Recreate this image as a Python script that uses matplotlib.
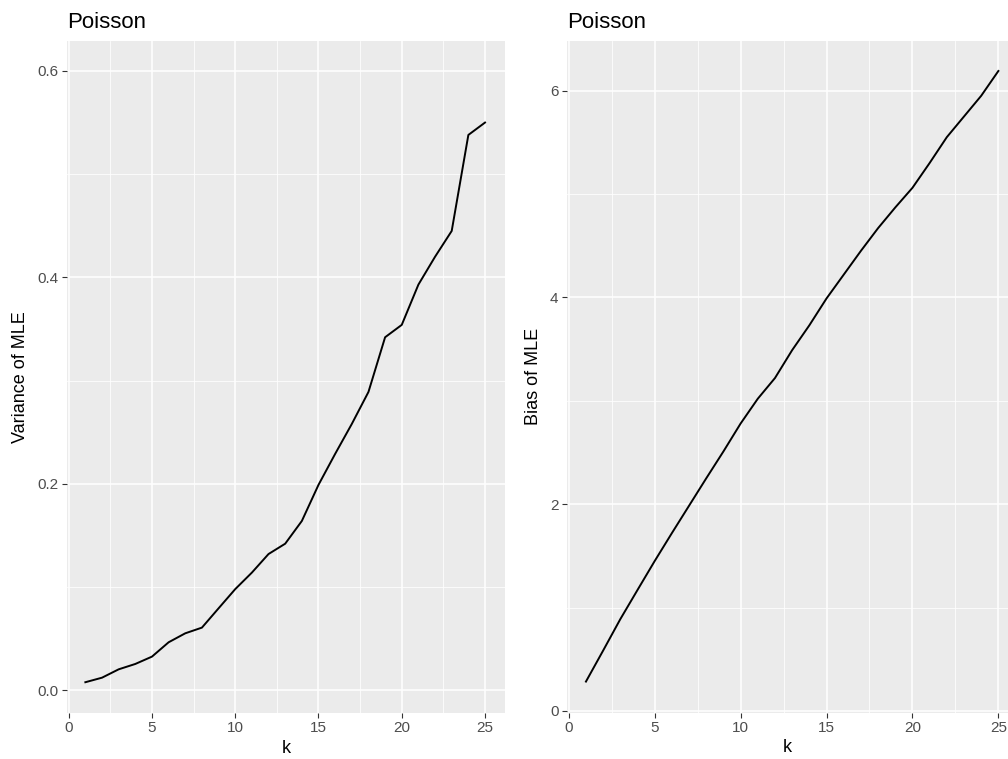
import matplotlib
matplotlib.use("Agg")
from matplotlib import pyplot as plt
from matplotlib.ticker import MultipleLocator
import numpy as np

k = np.arange(1, 26)

var_mle = [0.0078, 0.0122, 0.0203, 0.0255, 0.0326, 0.0465, 0.0552, 0.0607,
           0.0794, 0.098, 0.114, 0.132, 0.142, 0.164, 0.199, 0.229, 0.258,
           0.289, 0.342, 0.354, 0.393, 0.420, 0.445, 0.538, 0.550]

bias_mle = [0.284, 0.584, 0.888, 1.17, 1.45, 1.72, 1.985, 2.25, 2.51, 2.78,
            3.02, 3.22, 3.49, 3.73, 3.99, 4.22, 4.45, 4.67, 4.87, 5.06,
            5.30, 5.55, 5.75, 5.95, 6.19]

plt.rcParams['font.family'] = ['Liberation Sans', 'DejaVu Sans']

fig = plt.figure(figsize=(10.08, 7.59), dpi=100)

W, H = 1008, 759


def gg_axes(x0, x1, y_top, y_bot):
    ax = fig.add_axes([x0 / W, 1 - y_bot / H, (x1 - x0) / W, (y_bot - y_top) / H])
    ax.set_facecolor('#EBEBEB')
    for s in ax.spines.values():
        s.set_visible(False)
    ax.grid(which='major', color='white', linewidth=1.1)
    ax.grid(which='minor', color='white', linewidth=0.55)
    ax.set_axisbelow(True)
    ax.tick_params(which='major', length=3.4, width=0.8, color='#333333',
                   labelcolor='#4D4D4D', labelsize=11, pad=2.5)
    ax.tick_params(which='minor', length=0)
    ax.xaxis.set_major_locator(MultipleLocator(5))
    ax.xaxis.set_minor_locator(MultipleLocator(2.5))
    return ax


ax1 = gg_axes(66.7, 505, 41, 713.3)
ax1.plot(k, var_mle, color='black', linewidth=1.4)
ax1.set_xlim(-0.12, 26.2)
ax1.set_ylim(-0.0223, 0.629)
ax1.yaxis.set_major_locator(MultipleLocator(0.2))
ax1.yaxis.set_minor_locator(MultipleLocator(0.1))
ax1.yaxis.set_major_formatter(lambda v, p: f"{v:.1f}")
ax1.set_xlabel('k', fontsize=13, labelpad=3)
ax1.set_ylabel('Variance of MLE', fontsize=13, labelpad=6)
ax1.set_title('Poisson', loc='left', fontsize=16, pad=9)

ax2 = gg_axes(566.7, 1008, 41, 712.7)
ax2.plot(k, bias_mle, color='black', linewidth=1.4)
ax2.set_xlim(-0.12, 25.56)
ax2.set_ylim(-0.017, 6.48)
ax2.yaxis.set_major_locator(MultipleLocator(2))
ax2.yaxis.set_minor_locator(MultipleLocator(1))
ax2.set_xlabel('k', fontsize=13, labelpad=3)
ax2.set_ylabel('Bias of MLE', fontsize=13, labelpad=6)
ax2.set_title('Poisson', loc='left', fontsize=16, pad=9)

fig.savefig('out.png', dpi=100)
